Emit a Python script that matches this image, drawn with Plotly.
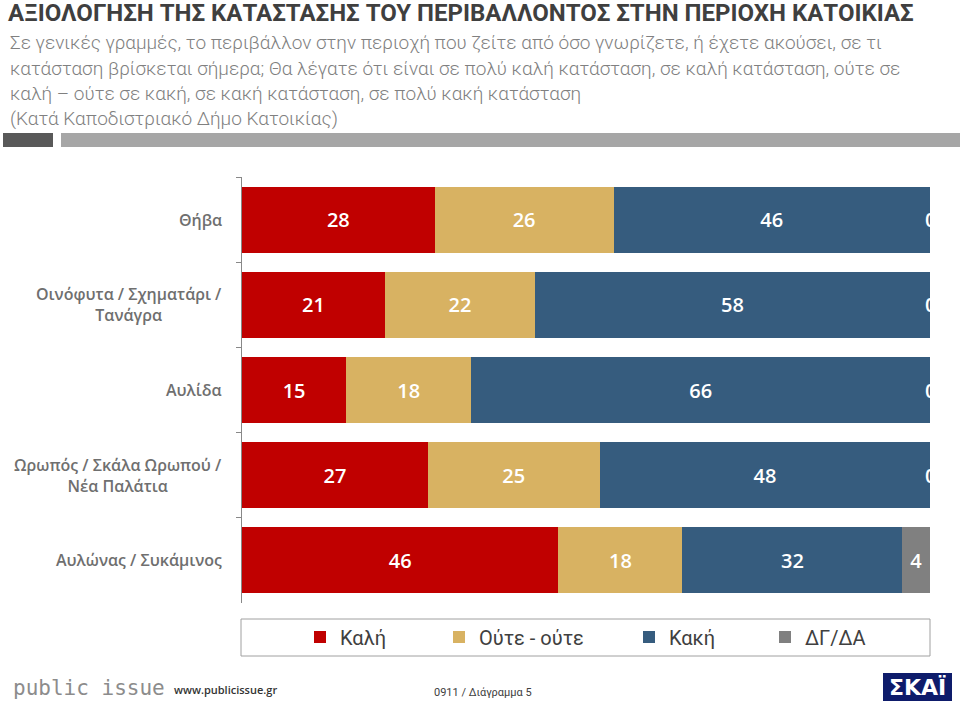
import plotly.graph_objects as go

categories = ["Θήβα", "Οινόφυτα / Σχηματάρι /<br>Τανάγρα", "Αυλίδα",
              "Ωρωπός / Σκάλα Ωρωπού /<br>Νέα Παλάτια", "Αυλώνας / Συκάμινος"]
kali = [28, 21, 15, 27, 46]
oute = [26, 22, 18, 25, 18]
kaki = [46, 58, 66, 48, 32]
dgda = [0, 0, 0, 0, 4]

series_names = ["Καλή", "Ούτε - ούτε", "Κακή", "ΔΓ/ΔΑ"]
series_values = [kali, oute, kaki, dgda]
series_colors = ["#C00000", "#D8B262", "#365C7E", "#808080"]

title = "ΑΞΙΟΛΟΓΗΣΗ ΤΗΣ ΚΑΤΑΣΤΑΣΗΣ ΤΟΥ ΠΕΡΙΒΑΛΛΟΝΤΟΣ ΣΤΗΝ ΠΕΡΙΟΧΗ ΚΑΤΟΙΚΙΑΣ"
subtitle_lines = [
    "Σε γενικές γραμμές, το περιβάλλον στην περιοχή που ζείτε από όσο γνωρίζετε, ή έχετε ακούσει, σε τι",
    "κατάσταση βρίσκεται σήμερα; Θα λέγατε ότι είναι σε πολύ καλή κατάσταση, σε καλή κατάσταση, ούτε σε",
    "καλή – ούτε σε κακή, σε κακή κατάσταση, σε πολύ κακή κατάσταση",
    "(Κατά Καποδιστριακό Δήμο Κατοικίας)",
]

W, H = 960, 705
L, R, T, B = 242, 930, 177, 603  # pixel coords of plot area


def px(x):
    return (x - L) / (R - L)


def py(y):
    return (B - y) / (B - T)


HEAD = "Roboto, Noto Sans, sans-serif"
MAIN = "Open Sans, Noto Sans, sans-serif"

fig = go.Figure()
legend_x = [316, 455, 645, 781]
for i, (name, vals, col) in enumerate(zip(series_names, series_values, series_colors)):
    lg = "legend" if i == 0 else f"legend{i+1}"
    fig.add_trace(go.Bar(
        y=categories, x=vals, name=name, orientation="h",
        marker=dict(color=col, line=dict(width=0)),
        text=[str(v) for v in vals], textposition="inside",
        insidetextanchor="middle",
        textfont=dict(color="white", size=20, family=MAIN, weight=600),
        legend=lg, hoverinfo="skip",
    ))

annotations = []
for ci, cat in enumerate(categories):
    total = sum(s[ci] for s in series_values)
    cum = 0
    for s in series_values:
        cum += s[ci]
        if s[ci] == 0:
            annotations.append(dict(
                x=cum / total * 100, y=cat, xref="x", yref="y", text="0",
                showarrow=False, xanchor="center", yanchor="middle",
                font=dict(color="white", size=20, family=MAIN, weight=600)))

for cat in categories:
    annotations.append(dict(
        x=px(224), y=cat, xref="paper", yref="y", text=cat, showarrow=False,
        xanchor="right", yanchor="middle", align="center",
        font=dict(color="#6F6F6F", size=16, family=MAIN, weight=600)))

annotations.append(dict(
    x=px(6), y=py(13), xref="paper", yref="paper", text=title, showarrow=False,
    xanchor="left", yanchor="middle",
    font=dict(color="#3F3F3F", size=24, family=HEAD, weight="bold")))
for k, line in enumerate(subtitle_lines):
    annotations.append(dict(
        x=px(8), y=py(43 + k * 25.3), xref="paper", yref="paper", text=line,
        showarrow=False, xanchor="left", yanchor="middle",
        font=dict(color="#808080", size=19, family=HEAD, weight=300)))

annotations.append(dict(
    x=px(11), y=py(688), xref="paper", yref="paper", text="public issue",
    showarrow=False, xanchor="left", yanchor="middle",
    font=dict(color="#8C8C8C", size=21, family="DejaVu Sans Mono, monospace")))
annotations.append(dict(
    x=px(172), y=py(689), xref="paper", yref="paper", text="www.publicissue.gr",
    showarrow=False, xanchor="left", yanchor="middle",
    font=dict(color="#333333", size=11, family=MAIN, weight=600)))
annotations.append(dict(
    x=px(432), y=py(692), xref="paper", yref="paper", text="0911 / Διάγραμμα 5",
    showarrow=False, xanchor="left", yanchor="middle",
    font=dict(color="#404040", size=11, family=HEAD)))
annotations.append(dict(
    x=px(917), y=py(687), xref="paper", yref="paper", text="<b>ΣΚΑΪ</b>",
    showarrow=False, xanchor="center", yanchor="middle",
    font=dict(color="white", size=22, family="DejaVu Sans, sans-serif")))

shapes = [
    dict(type="rect", xref="paper", yref="paper", x0=px(3), x1=px(53), y0=py(133), y1=py(147),
         fillcolor="#595959", line=dict(width=0)),
    dict(type="rect", xref="paper", yref="paper", x0=px(61), x1=px(960), y0=py(133), y1=py(147),
         fillcolor="#A6A6A6", line=dict(width=0)),
    dict(type="rect", xref="paper", yref="paper", x0=px(241), x1=px(930), y0=py(619), y1=py(656),
         fillcolor="rgba(0,0,0,0)", line=dict(color="#A0A0A0", width=1)),
    dict(type="rect", xref="paper", yref="paper", x0=px(883), x1=px(952), y0=py(673), y1=py(701),
         fillcolor="#0E1C6B", line=dict(width=0)),
]

layout_legends = {}
for i, lx in enumerate(legend_x):
    key = "legend" if i == 0 else f"legend{i+1}"
    layout_legends[key] = dict(
        x=px(lx - 16), y=py(637), xref="paper", yref="paper",
        xanchor="left", yanchor="middle", orientation="h",
        bgcolor="rgba(0,0,0,0)", borderwidth=0,
        font=dict(color="#404040", size=20, family=HEAD),
        itemclick=False, itemdoubleclick=False)

fig.update_layout(
    width=W, height=H, barmode="stack", barnorm="percent", bargap=0.224,
    margin=dict(l=L, r=W - R, t=T, b=H - B, pad=0),
    plot_bgcolor="white", paper_bgcolor="white",
    xaxis=dict(range=[0, 100], visible=False, fixedrange=True),
    yaxis=dict(categoryorder="array", categoryarray=categories, autorange="reversed",
               showticklabels=False, tickson="boundaries", ticks="outside", ticklen=5,
               tickcolor="#888888", showline=True, linecolor="#888888", linewidth=1,
               showgrid=False, zeroline=False, fixedrange=True),
    annotations=annotations, shapes=shapes, uniformtext=dict(minsize=8, mode="show"),
    showlegend=True,
    **layout_legends,
)

fig.write_html(
    "out.html",
    config={"displayModeBar": False},
    post_script="document.body.style.margin='0';document.body.style.overflow='hidden';",
)
